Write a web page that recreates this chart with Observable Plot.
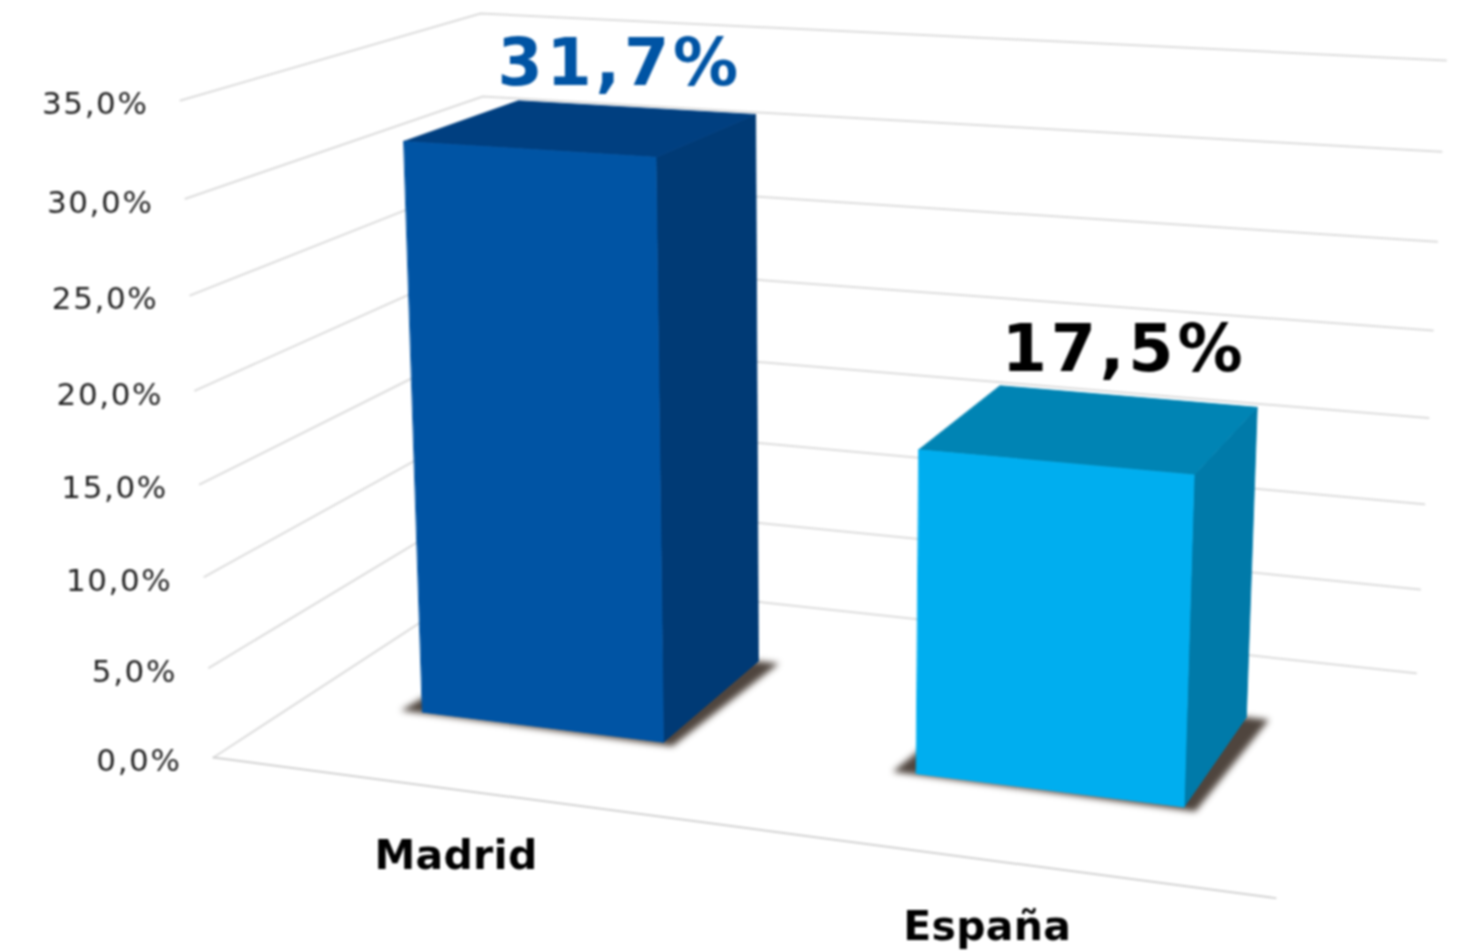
<!DOCTYPE html>
<html>
<head>
<meta charset="utf-8">
<script src="https://cdn.jsdelivr.net/npm/d3@7"></script>
<script src="https://cdn.jsdelivr.net/npm/@observablehq/plot@0.6"></script>
<style>
html,body{margin:0;padding:0;background:#fff;overflow:hidden}
.tick-text text{letter-spacing:1.6px}
.value-text text{letter-spacing:3.8px}
.cat-text text{letter-spacing:.3px}
svg{filter:blur(0.8px)}
</style>
</head>
<body>
<div id="chart"></div>
<script>
// --- data ---
const categories = ["Madrid", "España"];
const values = [31.7, 17.5];
const valueLabels = ["31,7%", "17,5%"];
const ticks = [0, 5, 10, 15, 20, 25, 30, 35];
const tickLabels = ["0,0%", "5,0%", "10,0%", "15,0%", "20,0%", "25,0%", "30,0%", "35,0%"];
const frontColors = ["#0054a4", "#00aeef"];
const sideColors = ["#003a75", "#007aa9"];
const topColors = ["#003f80", "#0084b4"];
const labelColors = ["#0054a4", "#000000"];

// --- 3D frame: bar slots along the category axis, and depth along the floor ---
const slots = [[0.127, 0.378], [0.628, 0.879]];
const depth = [0.29, 0.7];
const vMax = 35;
const W = 1468, H = 951;

// perspective camera: three vanishing points and the origin's image
const VU = [-8827, -440], VV = [820, 12845], VW = [2049, -442], O = [213, 757];
const KU = -0.10513, KV = -0.05155, KW = 0.18147;
function project(u, value, w) {
  const v = value / vMax;
  const d = 1 + KU * u + KV * v + KW * w;
  return {
    x: (KU * u * VU[0] + KV * v * VV[0] + KW * w * VW[0] + O[0]) / d,
    y: (KU * u * VU[1] + KV * v * VV[1] + KW * w * VW[1] + O[1]) / d
  };
}

// gridlines: left wall then back wall, plus floor front edge
const grid = ticks.flatMap(t => [
  {id: t, ...project(0, t, 0)},
  {id: t, ...project(0, t, 1)},
  {id: t, ...project(1.01, t, 1)}
]);
const floorEdge = [{id: "f", ...project(0, 0, 0)}, {id: "f", ...project(1, 0, 0)}];

// bar faces
function quad(id, color, pts) {
  return pts.map(p => ({id, color, ...project(...p)}));
}
const shadows = categories.flatMap((c, i) => {
  const [a, b] = slots[i], [f, k] = depth;
  return quad("s" + i, "#4f453e", [[a - 0.022, 0, f - 0.004], [b + 0.012, 0, f - 0.012], [b + 0.022, 0, k], [a, 0, k]]);
});
const faces = categories.flatMap((c, i) => {
  const [a, b] = slots[i], [f, k] = depth, v = values[i];
  return [
    ...quad("side" + i, sideColors[i], [[b, 0, f], [b, 0, k], [b, v, k], [b, v, f]]),
    ...quad("top" + i, topColors[i], [[a, v, f], [b, v, f], [b, v, k], [a, v, k]]),
    ...quad("front" + i, frontColors[i], [[a, 0, f], [b, 0, f], [b, v, f], [a, v, f]])
  ];
});

// texts
const font = "'DejaVu Sans', Verdana, sans-serif";
const tickText = ticks.map((t, i) => {
  const p = project(0, t, 0);
  return {text: tickLabels[i], x: p.x - 32, y: p.y + 4};
});
const labelNudge = [[-16, -43], [-3, -46]];
const valueText = categories.map((c, i) => {
  const p = project((slots[i][0] + slots[i][1]) / 2, values[i], depth[1]);
  return {text: valueLabels[i], color: labelColors[i], x: p.x + labelNudge[i][0], y: p.y + labelNudge[i][1]};
});
const catText = categories.map((c, i) => {
  const p = project((slots[i][0] + slots[i][1]) / 2, 0, 0);
  return {text: c, x: p.x - 4, y: p.y + 66};
});

const chart = Plot.plot({
  width: W,
  height: H,
  margin: 0,
  x: {domain: [0, W], range: [0, W], axis: null},
  y: {domain: [0, H], range: [0, H], axis: null},
  color: {type: "identity"},
  style: {background: "#fff"},
  marks: [
    Plot.line(grid, {x: "x", y: "y", z: "id", stroke: "#dcdcdc", strokeWidth: 2, curve: "linear"}),
    Plot.line(floorEdge, {x: "x", y: "y", z: "id", stroke: "#d2d2d2", strokeWidth: 2}),
    Plot.line(shadows, {x: "x", y: "y", z: "id", fill: "color", stroke: null, curve: "linear-closed", imageFilter: "blur(3px)"}),
    Plot.line(faces, {x: "x", y: "y", z: "id", fill: "color", stroke: "color", strokeWidth: 0.8, curve: "linear-closed"}),
    Plot.text(tickText, {x: "x", y: "y", text: "text", textAnchor: "end", fontFamily: font, fontSize: 31, fill: "#1f1f1f", className: "tick-text"}),
    Plot.text(valueText, {x: "x", y: "y", text: "text", fontFamily: font, fontWeight: "bold", fontSize: 65, fill: "color", className: "value-text"}),
    Plot.text(catText, {x: "x", y: "y", text: "text", fontFamily: font, fontWeight: "bold", fontSize: 41, fill: "#000", className: "cat-text"})
  ]
});
document.getElementById("chart").append(chart);
</script>
</body>
</html>
